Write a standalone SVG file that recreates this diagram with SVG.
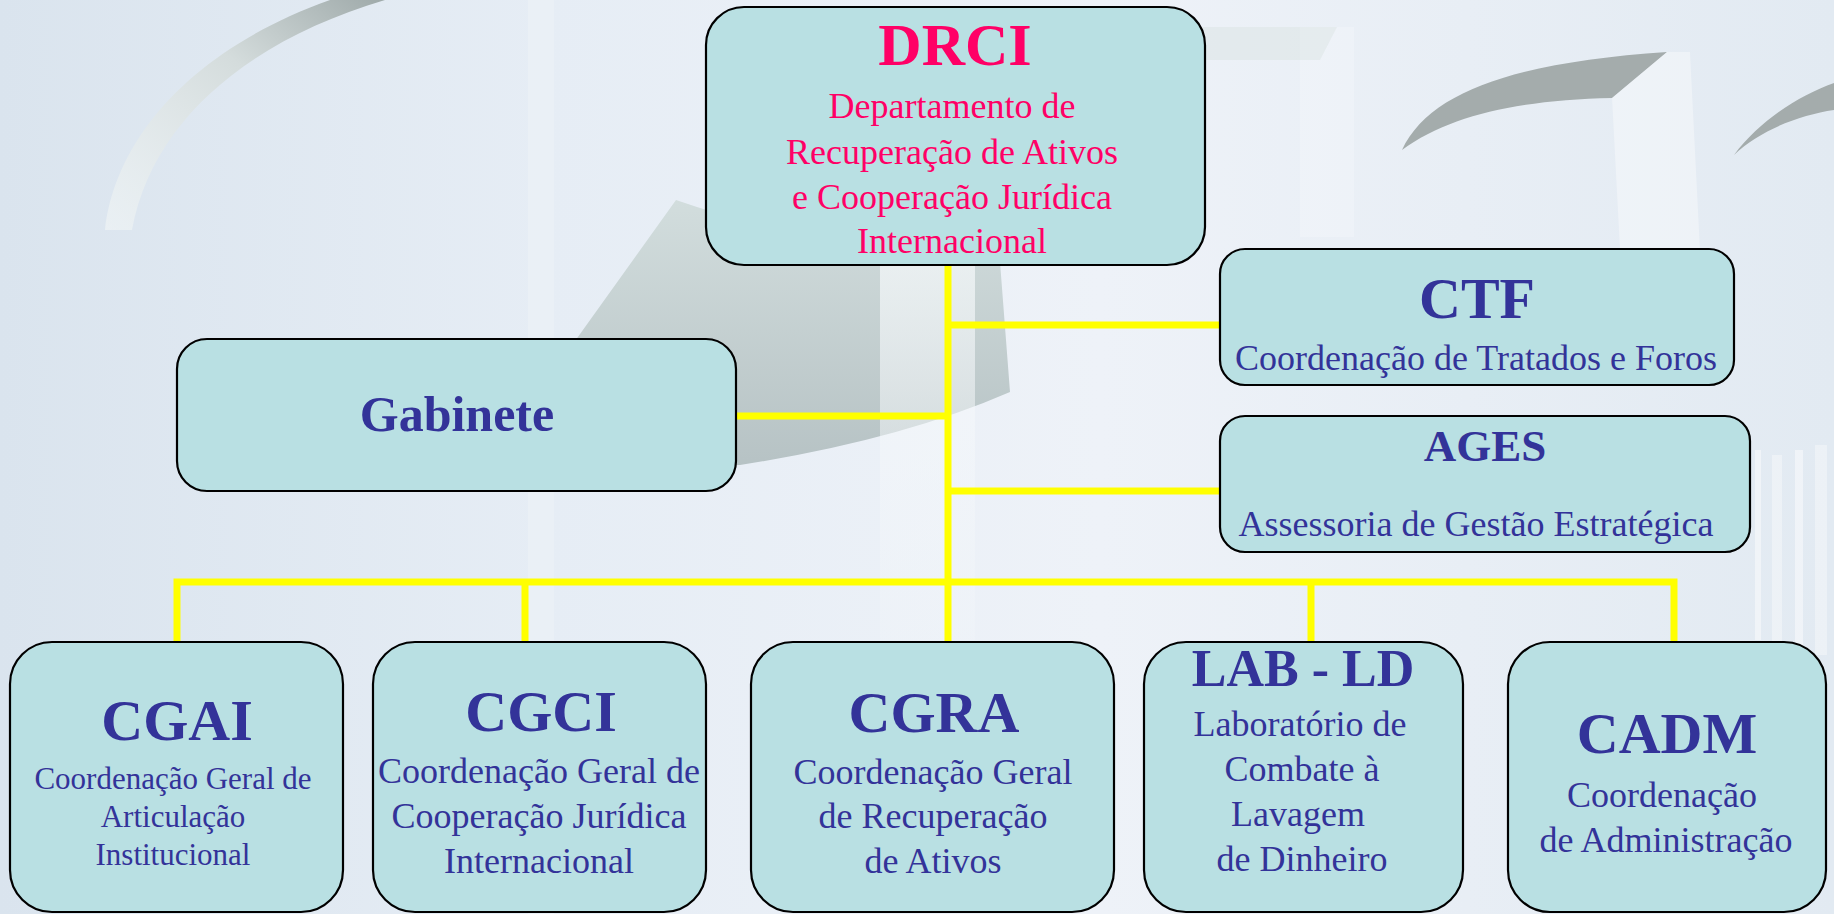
<svg xmlns="http://www.w3.org/2000/svg" width="1834" height="914" viewBox="0 0 1834 914">
<defs>
<linearGradient id="bg" x1="0" y1="0" x2="1" y2="0">
<stop offset="0" stop-color="#DAE4EE"/>
<stop offset="0.3" stop-color="#E6EDF5"/>
<stop offset="0.6" stop-color="#EEF2F8"/>
<stop offset="1" stop-color="#E2EAF2"/>
</linearGradient>
<linearGradient id="dome" x1="0" y1="0" x2="0" y2="1">
<stop offset="0" stop-color="#D2DDDD"/>
<stop offset="1" stop-color="#B6C2C4"/>
</linearGradient>
<linearGradient id="arc" x1="0" y1="1" x2="1" y2="0">
<stop offset="0" stop-color="#F2F6F6" stop-opacity="0.6"/>
<stop offset="0.6" stop-color="#D4DCDC"/>
<stop offset="1" stop-color="#9FAAAA"/>
</linearGradient>
<linearGradient id="col" x1="0" y1="0" x2="0" y2="1">
<stop offset="0" stop-color="#F6F9FB" stop-opacity="0.7"/>
<stop offset="1" stop-color="#F6F9FB" stop-opacity="0.2"/>
</linearGradient>
<style>
.box{fill:#B9E0E3;stroke:#000;stroke-width:2.2}
.t{font-family:"Liberation Serif","Times New Roman",serif;text-anchor:middle;fill:#333399}
.b{font-weight:bold}
.pk{fill:#FF0066}
.s36{font-size:36px}
.s31{font-size:31px}
.conn{fill:none;stroke:#FFFF00;stroke-width:7;stroke-linecap:butt;stroke-linejoin:miter}
</style>
</defs>

<g id="background">
<rect x="0" y="0" width="1834" height="914" fill="url(#bg)"/>
<rect x="528" y="0" width="26" height="914" fill="#F4F7FA" opacity="0.3"/>
<path d="M105,230 C115,140 190,50 330,0 L385,0 C250,40 152,120 132,230 Z" fill="url(#arc)"/>
<path d="M560,362 L676,200 Q820,250 1000,262 L1010,392 Q900,440 740,465 L600,470 Z" fill="url(#dome)"/>
<rect x="880" y="265" width="95" height="375" fill="url(#col)"/>
<rect x="1300" y="27" width="54" height="210" fill="#F6F9FB" opacity="0.35"/>
<path d="M1200,27 L1337,27 L1320,60 L1200,60 Z" fill="#D6E0DE" opacity="0.4"/>
<path d="M1402,150 C1430,90 1520,62 1667,52 L1612,98 C1520,100 1450,115 1402,150 Z" fill="#A4ACAC"/>
<path d="M1612,98 L1667,52 L1690,52 L1700,250 L1620,250 Z" fill="#F8FAFB" opacity="0.5"/>
<path d="M1734,155 C1760,120 1800,95 1834,83 L1834,110 C1800,115 1760,130 1734,155 Z" fill="#A4ACAC"/>
<rect x="1755" y="450" width="6" height="190" fill="#FFFFFF" opacity="0.45"/>
<rect x="1772" y="455" width="10" height="190" fill="#FFFFFF" opacity="0.35"/>
<rect x="1795" y="450" width="8" height="200" fill="#FFFFFF" opacity="0.45"/>
<rect x="1815" y="445" width="12" height="210" fill="#FFFFFF" opacity="0.35"/>
</g>

<g id="connectors">
<path class="conn" d="M948,265 V642"/>
<path class="conn" d="M948,325 H1220"/>
<path class="conn" d="M736,416 H948"/>
<path class="conn" d="M948,491 H1220"/>
<path class="conn" d="M177,642 V582 H1674 V642"/>
<path class="conn" d="M525,582 V642"/>
<path class="conn" d="M1311,582 V642"/>
</g>

<g id="DRCI">
<rect class="box" x="706" y="7" width="499" height="258" rx="38" ry="38"/>
<text class="t b pk" x="955" y="65" font-size="60">DRCI</text>
<text class="t pk s36" x="952" y="118">Departamento de</text>
<text class="t pk s36" x="952" y="164">Recuperação de Ativos</text>
<text class="t pk s36" x="952" y="209">e Cooperação Jurídica</text>
<text class="t pk s36" x="952" y="253">Internacional</text>
</g>

<g id="CTF">
<rect class="box" x="1220" y="249" width="514" height="136" rx="25" ry="25"/>
<text class="t b" x="1477" y="318" font-size="58">CTF</text>
<text class="t s36" x="1476" y="370">Coordenação de Tratados e Foros</text>
</g>

<g id="AGES">
<rect class="box" x="1220" y="416" width="530" height="136" rx="25" ry="25"/>
<text class="t b" x="1485" y="461" font-size="45">AGES</text>
<text class="t s36" x="1476" y="536">Assessoria de Gestão Estratégica</text>
</g>

<g id="Gabinete">
<rect class="box" x="177" y="339" width="559" height="152" rx="30" ry="30"/>
<text class="t b" x="457" y="431" font-size="50">Gabinete</text>
</g>

<g id="CGAI">
<rect class="box" x="10" y="642" width="333" height="270" rx="42" ry="42"/>
<text class="t b" x="177" y="740" font-size="58">CGAI</text>
<text class="t s31" x="173" y="789">Coordenação Geral de</text>
<text class="t s31" x="173" y="827">Articulação</text>
<text class="t s31" x="173" y="865">Institucional</text>
</g>

<g id="CGCI">
<rect class="box" x="373" y="642" width="333" height="270" rx="42" ry="42"/>
<text class="t b" x="541" y="731" font-size="58">CGCI</text>
<text class="t s36" x="539" y="783">Coordenação Geral de</text>
<text class="t s36" x="539" y="828">Cooperação Jurídica</text>
<text class="t s36" x="539" y="873">Internacional</text>
</g>

<g id="CGRA">
<rect class="box" x="751" y="642" width="363" height="270" rx="42" ry="42"/>
<text class="t b" x="934" y="732" font-size="58">CGRA</text>
<text class="t s36" x="933" y="784">Coordenação Geral</text>
<text class="t s36" x="933" y="828">de Recuperação</text>
<text class="t s36" x="933" y="873">de Ativos</text>
</g>

<g id="LAB-LD">
<rect class="box" x="1144" y="642" width="319" height="270" rx="42" ry="42"/>
<text class="t b" x="1303" y="686" font-size="52">LAB - LD</text>
<text class="t s36" x="1300" y="736">Laboratório de</text>
<text class="t s36" x="1302" y="781">Combate à</text>
<text class="t s36" x="1298" y="826">Lavagem</text>
<text class="t s36" x="1302" y="871">de Dinheiro</text>
</g>

<g id="CADM">
<rect class="box" x="1508" y="642" width="318" height="270" rx="42" ry="42"/>
<text class="t b" x="1667" y="753" font-size="58">CADM</text>
<text class="t s36" x="1662" y="807">Coordenação</text>
<text class="t s36" x="1666" y="852">de Administração</text>
</g>
</svg>
